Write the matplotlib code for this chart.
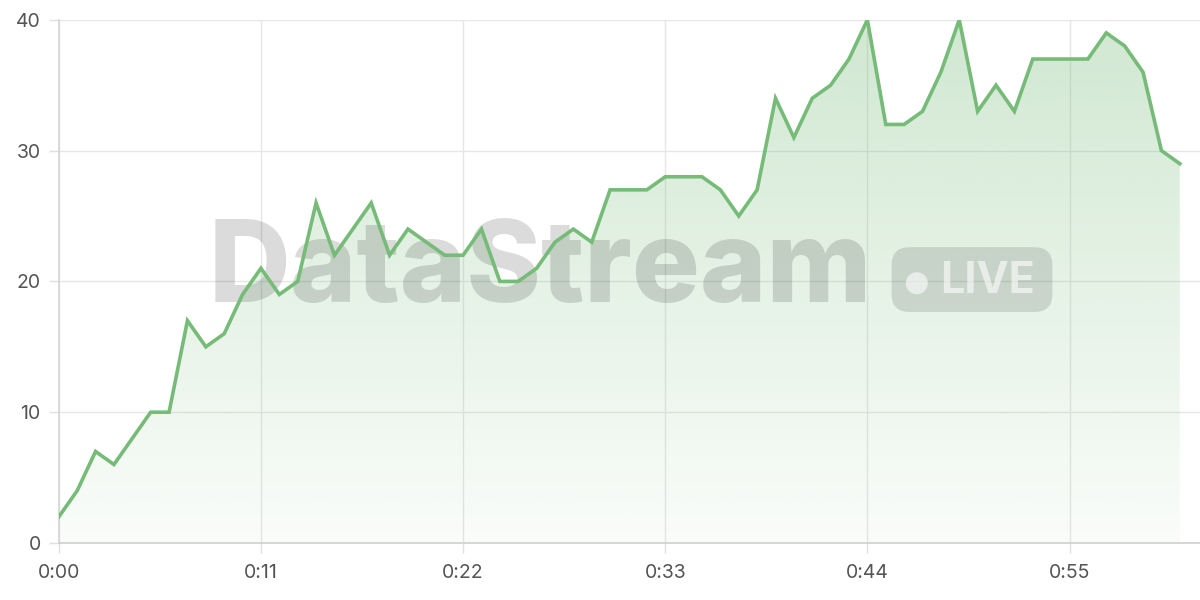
import matplotlib.pyplot as plt
import numpy as np
from matplotlib.patches import FancyBboxPatch, Circle

# seconds 0..61 and the values
seconds = list(range(62))
values = [2, 4, 7, 6, 8, 10, 10, 17, 15, 16, 19, 21, 19, 20, 26, 22, 24, 26, 22, 24,
          23, 22, 22, 24, 20, 20, 21, 23, 24, 23, 27, 27, 27, 28, 28, 28, 27, 25, 27, 34,
          31, 34, 35, 37, 40, 32, 32, 33, 36, 40, 33, 35, 33, 37, 37, 37, 37, 39, 38, 36,
          30, 29]
x_ticks = [0, 11, 22, 33, 44, 55]
x_labels = ['0:00', '0:11', '0:22', '0:33', '0:44', '0:55']
y_ticks = [0, 10, 20, 30, 40]

line_color = '#76bb78'

plt.rcParams['font.family'] = ['Inter', 'DejaVu Sans']

fig = plt.figure(figsize=(12, 6), dpi=100)
ax = fig.add_axes([0.049, 0.095, 0.951, 0.872])

x = np.array(seconds)
y = np.array(values)

# gradient fill under the line
poly = ax.fill_between(x, y, 0, color='none')
grad = np.linspace(0.04, 0.34, 256).reshape(-1, 1)
rgba = np.zeros((256, 1, 4))
rgba[..., 0] = 0x76 / 255
rgba[..., 1] = 0xbb / 255
rgba[..., 2] = 0x78 / 255
rgba[..., 3] = grad
img = ax.imshow(rgba, extent=[0, 61, 0, 40], origin='lower', aspect='auto', zorder=1)
path = poly.get_paths()[0]
img.set_clip_path(path, transform=ax.transData)

ax.plot(x, y, color=line_color, lw=2.6, zorder=5, solid_joinstyle='miter')

ax.set_xlim(0, 62.1)
ax.set_ylim(0, 40)
ax.set_xticks(x_ticks)
ax.set_xticklabels(x_labels)
ax.set_yticks(y_ticks)
ax.grid(True, color='#e6e6e6', lw=1, zorder=0)
ax.set_axisbelow(True)
for s in ['top', 'right']:
    ax.spines[s].set_visible(False)
ax.spines['left'].set_color('#d6d6d6')
ax.spines['bottom'].set_color('#cfcfcf')
ax.spines['left'].set_linewidth(1.2)
ax.spines['bottom'].set_linewidth(1.2)
ax.tick_params(axis='both', colors='#e0e0e0', labelcolor='#555555', labelsize=14,
               length=7, width=1)
ax.tick_params(axis='x', pad=8)
ax.tick_params(axis='y', pad=6)

# watermark, under the line but over the fill
ax.text(0.174, 0.547, 'DataStream', fontsize=81.5, fontweight='heavy', color='#000000',
        alpha=0.14, ha='left', va='center', zorder=3, transform=fig.transFigure)
badge = FancyBboxPatch((0.743, 0.48), 0.134, 0.108,
                       boxstyle='round,pad=0,rounding_size=0.015',
                       transform=fig.transFigure, facecolor='#000000', alpha=0.12,
                       edgecolor='none', zorder=3, mutation_aspect=2)
ax.add_patch(badge)
dot = Circle((0.764 * 12, 0.528 * 6), 0.11, transform=fig.dpi_scale_trans,
             facecolor='white', alpha=0.6, edgecolor='none', zorder=4)
ax.add_patch(dot)
ax.text(0.823, 0.531, 'LIVE', fontsize=31, fontweight='bold', color='white', alpha=0.6,
        ha='center', va='center', zorder=4, transform=fig.transFigure)

fig.savefig('out.png', dpi=100)
